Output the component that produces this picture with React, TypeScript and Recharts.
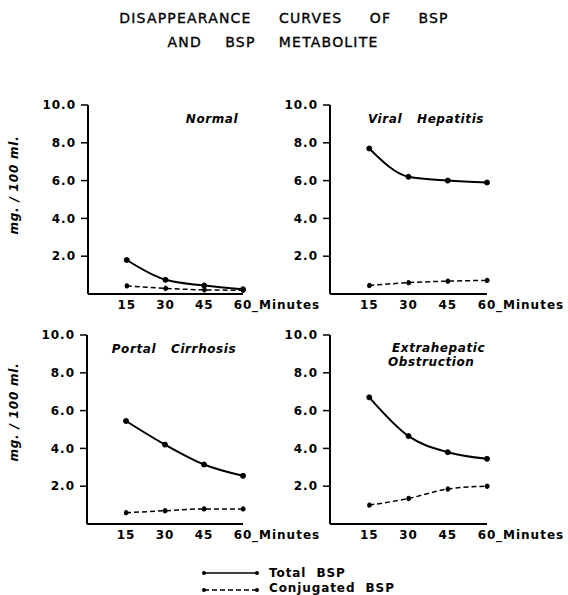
import React from 'react';
import { LineChart, Line, XAxis, YAxis } from 'recharts';

const minutes = [15, 30, 45, 60];
const yTicks = [2, 4, 6, 8, 10];

const normalTotal = [1.8, 0.75, 0.45, 0.25];
const normalConj = [0.43, 0.3, 0.22, 0.2];
const viralTotal = [7.7, 6.2, 6.0, 5.9];
const viralConj = [0.45, 0.6, 0.68, 0.72];
const portalTotal = [5.45, 4.2, 3.15, 2.55];
const portalConj = [0.6, 0.7, 0.8, 0.8];
const extraTotal = [6.7, 4.65, 3.8, 3.45];
const extraConj = [1.0, 1.35, 1.85, 2.0];

const titleLines = ['DISAPPEARANCE  CURVES  OF  BSP', 'AND  BSP  METABOLITE'];
const yAxisTitle = 'mg. / 100 ml.';
const xUnit = '_Minutes';
const legendLabels = ['Total  BSP', 'Conjugated  BSP'];

const FONT = '"DejaVu Sans", sans-serif';

const XTick = (props: any) => {
  const { x, y, payload } = props;
  const v = payload.value;
  return (
    <g>
      <text x={x} y={y + 15} textAnchor="middle" fontFamily={FONT} fontWeight="bold" fontSize={12} letterSpacing={1} fill="#000">
        {String(v)}
      </text>
      {v === 60 ? (
        <text x={x + 9} y={y + 15} textAnchor="start" fontFamily={FONT} fontWeight="bold" fontSize={12} letterSpacing={1} fill="#000">
          {xUnit}
        </text>
      ) : null}
    </g>
  );
};

type PanelProps = {
  left: number;
  top: number;
  width: number;
  plotWidth: number;
  total: number[];
  conj: number[];
};

const Panel = ({ left, top, width, plotWidth, total, conj }: PanelProps) => {
  const data = minutes.map((m, i) => ({ m, total: total[i], conj: conj[i] }));
  const yw = 88;
  return (
    <div style={{ position: 'absolute', left, top }}>
      <LineChart width={width} height={230} data={data} margin={{ top: 15, right: width - yw - plotWidth, bottom: 0, left: 0 }}>
        <XAxis
          dataKey="m"
          type="number"
          domain={[0, 60]}
          ticks={minutes}
          interval={0}
          tickLine={false}
          tickSize={0}
          tickMargin={0}
          height={26}
          axisLine={{ stroke: '#000', strokeWidth: 2 }}
          tick={<XTick />}
        />
        <YAxis
          type="number"
          domain={[0, 10]}
          ticks={yTicks}
          interval={0}
          width={yw}
          tickSize={7}
          tickMargin={5}
          tickFormatter={(v: number) => v.toFixed(1)}
          tickLine={{ stroke: '#000', strokeWidth: 1.5 }}
          axisLine={{ stroke: '#000', strokeWidth: 2 }}
          tick={{ fill: '#000', fontSize: 12, fontWeight: 'bold', fontFamily: FONT, letterSpacing: 1 }}
        />
        <Line
          type="monotone"
          dataKey="total"
          stroke="#000"
          strokeWidth={2}
          dot={{ r: 2.5, fill: '#000', stroke: '#000', strokeWidth: 1 }}
          isAnimationActive={false}
        />
        <Line
          type="monotone"
          dataKey="conj"
          stroke="#000"
          strokeWidth={1.5}
          strokeDasharray="5 3"
          dot={{ r: 2.2, fill: '#000', stroke: '#000', strokeWidth: 1 }}
          isAnimationActive={false}
        />
      </LineChart>
    </div>
  );
};

const labelStyle = {
  fontFamily: FONT,
  fontStyle: 'italic' as const,
  fontWeight: 'bold' as const,
  fontSize: 12,
  letterSpacing: 0.6,
  wordSpacing: 10,
  fill: '#000',
};

export default function App() {
  return (
    <div style={{ position: 'absolute', left: 0, top: 0, width: 568, height: 595, background: '#fff' }}>
      <Panel left={0} top={90} width={330} plotWidth={155} total={normalTotal} conj={normalConj} />
      <Panel left={242} top={90} width={326} plotWidth={157} total={viralTotal} conj={viralConj} />
      <Panel left={-1} top={320} width={330} plotWidth={156} total={portalTotal} conj={portalConj} />
      <Panel left={242} top={320} width={326} plotWidth={157} total={extraTotal} conj={extraConj} />
      <svg width={568} height={595} style={{ position: 'absolute', left: 0, top: 0, pointerEvents: 'none' }}>
        <text x={284} y={23} textAnchor="middle" fontFamily={FONT} fontSize={14} letterSpacing={1.2} wordSpacing={8} fill="#000" stroke="#000" strokeWidth={0.35} style={{ whiteSpace: 'pre' }}>
          {titleLines[0]}
        </text>
        <text x={273} y={47} textAnchor="middle" fontFamily={FONT} fontSize={14} letterSpacing={1.2} wordSpacing={6} fill="#000" stroke="#000" strokeWidth={0.35} style={{ whiteSpace: 'pre' }}>
          {titleLines[1]}
        </text>

        <text x={212} y={123} textAnchor="middle" {...labelStyle}>Normal</text>
        <text x={426} y={123} textAnchor="middle" {...labelStyle}>Viral Hepatitis</text>
        <text x={174} y={353} textAnchor="middle" {...labelStyle}>Portal Cirrhosis</text>
        <text x={392} y={352} textAnchor="start" {...labelStyle}>Extrahepatic</text>
        <text x={388} y={366} textAnchor="start" {...labelStyle}>Obstruction</text>

        <text transform="translate(18,185) rotate(-90)" textAnchor="middle" fontFamily={FONT} fontStyle="italic" fontWeight="bold" fontSize={12} letterSpacing={0.8} fill="#000" style={{ whiteSpace: 'pre' }}>
          {yAxisTitle}
        </text>
        <text transform="translate(18,412) rotate(-90)" textAnchor="middle" fontFamily={FONT} fontStyle="italic" fontWeight="bold" fontSize={12} letterSpacing={0.8} fill="#000" style={{ whiteSpace: 'pre' }}>
          {yAxisTitle}
        </text>

        <line x1={204} y1={573} x2={257} y2={573} stroke="#000" strokeWidth={1.5} />
        <circle cx={204} cy={573} r={2} fill="#000" />
        <circle cx={257} cy={573} r={2} fill="#000" />
        <text x={269} y={577} fontFamily={FONT} fontWeight="bold" fontSize={12} letterSpacing={0.9} fill="#000" style={{ whiteSpace: 'pre' }}>
          {legendLabels[0]}
        </text>
        <line x1={204} y1={590} x2={257} y2={590} stroke="#000" strokeWidth={1.5} strokeDasharray="5 3" />
        <circle cx={204} cy={590} r={2} fill="#000" />
        <circle cx={257} cy={590} r={2} fill="#000" />
        <text x={269} y={592} fontFamily={FONT} fontWeight="bold" fontSize={12} letterSpacing={0.9} fill="#000" style={{ whiteSpace: 'pre' }}>
          {legendLabels[1]}
        </text>
      </svg>
    </div>
  );
}
